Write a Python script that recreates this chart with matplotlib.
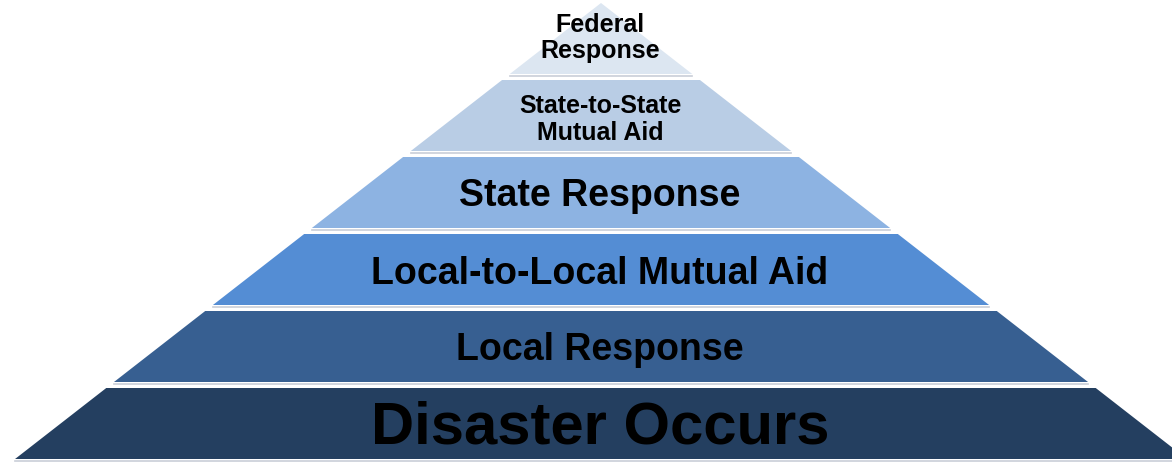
import matplotlib.pyplot as plt
from matplotlib.patches import Polygon

# layers from bottom to top
labels = ['Disaster Occurs', 'Local Response', 'Local-to-Local Mutual Aid',
          'State Response', 'State-to-State\nMutual Aid', 'Federal\nResponse']
colors = ['#243f60', '#375f91', '#548dd4', '#8db3e2', '#b9cde5', '#dce6f1']
font_sizes = [43, 27, 27, 27, 18, 18]

plt.rcParams['font.family'] = ['Liberation Sans', 'DejaVu Sans']

fig = plt.figure(figsize=(11.72, 4.62), dpi=100)
ax = fig.add_axes([0, 0, 1, 1])
ax.set_xlim(0, 1172)
ax.set_ylim(462, 0)
ax.axis('off')

apex_x, apex_y = 601, 3
slope = 1.285     # half-width growth per pixel of height
base = 459
pitch = 77
gap = 6


def half_width(y):
    return max(y - apex_y, 0) * slope


for i, (label, color, fs) in enumerate(zip(labels, colors, font_sizes)):
    bottom = base - pitch * i
    top = bottom - pitch + gap if i < len(labels) - 1 else apex_y
    hb, ht = half_width(bottom), half_width(top)
    poly = Polygon([(apex_x - hb, bottom), (apex_x + hb, bottom),
                    (apex_x + ht, top), (apex_x - ht, top)],
                   closed=True, facecolor=color, edgecolor='none')
    ax.add_patch(poly)
    # faint shadow line under each layer
    ax.plot([apex_x - hb, apex_x + hb], [bottom + 1.5, bottom + 1.5],
            color='#c9ced8', linewidth=1.2)
    ty = (top + bottom) / 2 + 4 if i < len(labels) - 1 else 38
    ax.text(apex_x - 1, ty, label, ha='center', va='center', fontsize=fs,
            fontweight='bold', color='black', linespacing=1.12)

fig.savefig('out.png', dpi=100)
